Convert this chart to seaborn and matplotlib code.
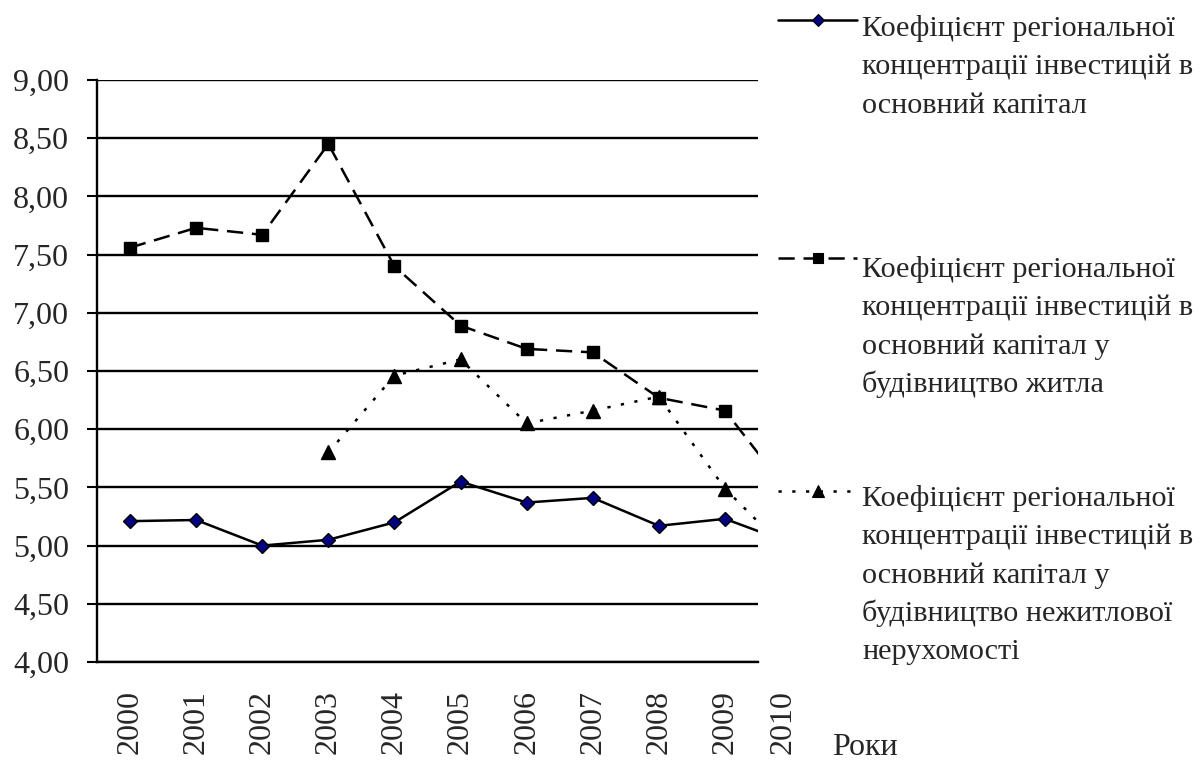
import numpy as np
import pandas as pd
import matplotlib
matplotlib.use("Agg")
import matplotlib.pyplot as plt
import seaborn as sns
from matplotlib.lines import Line2D
from matplotlib.ticker import FuncFormatter

# ---------------- data ----------------
years = [2000, 2001, 2002, 2003, 2004, 2005, 2006, 2007, 2008, 2009, 2010]
coef_total = [5.21, 5.22, 5.00, 5.05, 5.20, 5.55, 5.37, 5.41, 5.17, 5.23, 5.02]
coef_housing = [7.56, 7.73, 7.67, 8.45, 7.40, 6.89, 6.69, 6.66, 6.27, 6.16, 5.43]
coef_nonres = [np.nan, np.nan, np.nan, 5.80, 6.46, 6.60, 6.05, 6.16, 6.28, 5.49, 4.92]
y_ticks = [4.0, 4.5, 5.0, 5.5, 6.0, 6.5, 7.0, 7.5, 8.0, 8.5, 9.0]
legend_labels = [
    ["Коефіцієнт регіональної", "концентрації інвестицій в", "основний капітал"],
    ["Коефіцієнт регіональної", "концентрації інвестицій в", "основний капітал у",
     "будівництво житла"],
    ["Коефіцієнт регіональної", "концентрації інвестицій в", "основний капітал у",
     "будівництво нежитлової", "нерухомості"],
]
x_title = "Роки"

# ---------------- style ----------------
sns.set_style("white")
plt.rcParams["font.family"] = ["Liberation Serif", "DejaVu Serif"]
FS = 23
FS_LEG = 21.8
W, H = 1204, 762

fig = plt.figure(figsize=(W / 100, H / 100), dpi=100)
ax = fig.add_axes([97 / W, 1 - 662 / H, (758 - 97) / W, (662 - 80) / H])

idx = list(range(len(years)))
df = pd.DataFrame({"x": idx, "total": coef_total, "housing": coef_housing,
                   "nonres": coef_nonres})

styles = [
    dict(col="total", ls="-", marker="D", ms=7.5, mfc="#000080"),
    dict(col="housing", ls=(0, (6.5, 3.5)), marker="s", ms=8.5, mfc="black"),
    dict(col="nonres", ls=(0, (1.3, 4.2)), marker="^", ms=10.5, mfc="black"),
]
for st in styles:
    sns.lineplot(data=df, x="x", y=st["col"], ax=ax, color="black", lw=1.8,
                 linestyle=st["ls"], marker=st["marker"], markersize=st["ms"],
                 markerfacecolor=st["mfc"], markeredgecolor="black",
                 markeredgewidth=1.0, zorder=3)

ax.set_xlim(-0.5, 9.5)
ax.set_ylim(4, 9)
ax.set_yticks(y_ticks)
ax.yaxis.set_major_formatter(FuncFormatter(lambda v, p: f"{v:.2f}".replace(".", ",")))
ax.grid(axis="y", color="black", lw=1.7)
ax.grid(axis="x", visible=False)
ax.set_axisbelow(True)

ax.set_xticks(idx[:10])
ax.set_xticklabels([str(y) for y in years[:10]], rotation=90)
ax.set_xticks([i - 0.5 for i in idx], minor=True)
ax.tick_params(axis="x", which="major", length=0, pad=20, labelsize=FS)
ax.tick_params(axis="x", which="minor", length=9, width=1.5, direction="out",
               color="black")
ax.tick_params(axis="y", which="major", length=7, width=1.5, direction="out",
               pad=13, labelsize=FS, color="black", left=True)
ax.set_xlabel("")
ax.set_ylabel("")
for s in ["top", "right"]:
    ax.spines[s].set_visible(False)
for s in ["left", "bottom"]:
    ax.spines[s].set_color("black")
    ax.spines[s].set_linewidth(1.7)

# last category label (outside the visible plot range)
ax.annotate(str(years[10]), xy=(idx[10], 0), xycoords=("data", "axes fraction"),
            xytext=(-6, -20), textcoords="offset points", rotation=90,
            ha="center", va="top", fontsize=FS, annotation_clip=False)

fig.text(832 / W, 1 - 755 / H, x_title, fontsize=FS, va="baseline", ha="left")

# ---------------- legend (manual) ----------------
handle_y = [20, 258, 491]
text_base = [36, 277, 506]
for st, hy, tb, lines in zip(styles, handle_y, text_base, legend_labels):
    fig.add_artist(Line2D([778 / W, 818 / W, 857 / W], [1 - hy / H] * 3,
                          transform=fig.transFigure, color="black", lw=1.8,
                          linestyle=st["ls"], marker=st["marker"],
                          markersize=st["ms"] * 0.8, markerfacecolor=st["mfc"],
                          markeredgecolor="black", markeredgewidth=0.8,
                          markevery=[1]))
    for k, line in enumerate(lines):
        fig.text(862 / W, 1 - (tb + k * 38.3) / H, line, fontsize=FS_LEG,
                 va="baseline", ha="left")

fig.savefig("out.png", dpi=100, facecolor="white")
